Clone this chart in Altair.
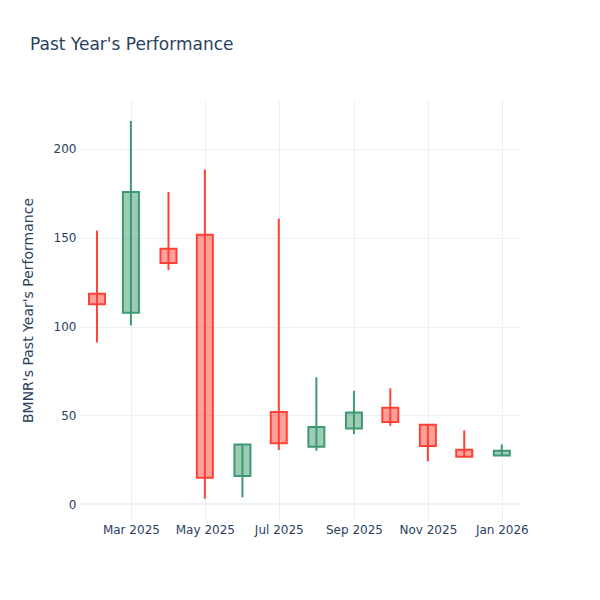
import altair as alt
import pandas as pd

dates = ["2025-02-01", "2025-03-01", "2025-04-01", "2025-05-01", "2025-06-01", "2025-07-01",
         "2025-08-01", "2025-09-01", "2025-10-01", "2025-11-01", "2025-12-01", "2026-01-01"]
open_ = [118.5, 107.8, 143.8, 151.7, 15.8, 51.8, 32.3, 42.6, 54.3, 44.7, 30.6, 27.4]
high = [154.0, 215.8, 175.8, 188.4, 33.6, 160.8, 71.4, 63.8, 65.2, 44.7, 41.5, 33.6]
low = [91.0, 100.6, 131.8, 3.0, 3.8, 30.4, 30.0, 39.4, 44.1, 24.0, 26.7, 27.4]
close = [112.5, 175.8, 135.8, 14.8, 33.6, 34.2, 43.4, 51.6, 46.2, 32.7, 26.7, 30.0]

df = pd.DataFrame({"date": dates, "open": open_, "high": high, "low": low, "close": close})
df["dir"] = ["up" if c >= o else "down" for o, c in zip(open_, close)]

FONT = "DejaVu Sans"
TXT = "#2a3f5f"
GRID = "#EBF0F8"

color_scale = alt.Scale(domain=["up", "down"], range=["#3D9970", "#FF4136"])

tick_vals = [alt.DateTime(year=2025, month=3, date=1), alt.DateTime(year=2025, month=5, date=1),
             alt.DateTime(year=2025, month=7, date=1), alt.DateTime(year=2025, month=9, date=1),
             alt.DateTime(year=2025, month=11, date=1), alt.DateTime(year=2026, month=1, date=1)]

x = alt.X("date:T",
          scale=alt.Scale(domain=[alt.DateTime(year=2025, month=1, date=18),
                                  alt.DateTime(year=2026, month=1, date=16)],
                          padding=0, nice=False),
          axis=alt.Axis(values=tick_vals, format="%b %Y", title=None, domain=False, ticks=False,
                        labelPadding=4, labelFontSize=12, labelColor=TXT, labelFont=FONT,
                        gridColor=GRID, gridWidth=1))

y_axis = alt.Axis(values=[0, 50, 100, 150, 200], domain=False, ticks=False, labelPadding=4,
                  labelFontSize=12, labelColor=TXT, labelFont=FONT, gridColor=GRID, gridWidth=1,
                  title="BMNR's Past Year's Performance", titleFont=FONT, titleFontSize=14,
                  titleFontWeight="normal", titleColor=TXT, titleX=-52, titleY=210,
                  titleAngle=-90, titleAlign="center", titleBaseline="middle")

base = alt.Chart(df)

zero = alt.Chart(pd.DataFrame({"z": [0]})).mark_rule(color=GRID, strokeWidth=2).encode(
    y=alt.Y("z:Q", scale=alt.Scale(domain=[-9, 227.6], nice=False, zero=False), axis=y_axis)
)

wick = base.mark_rule(strokeWidth=2).encode(
    x=x,
    y=alt.Y("low:Q"),
    y2="high:Q",
    color=alt.Color("dir:N", scale=color_scale, legend=None),
)

body = base.mark_bar(size=16, strokeWidth=2, fillOpacity=0.5).encode(
    x=x,
    y=alt.Y("open:Q"),
    y2="close:Q",
    fill=alt.Fill("dir:N", scale=color_scale, legend=None),
    stroke=alt.Stroke("dir:N", scale=color_scale, legend=None),
)

chart = alt.layer(zero, wick, body).properties(
    width=440,
    height=420,
    background="white",
    autosize=alt.AutoSizeParams(type="none"),
    padding={"left": 72, "top": 92, "right": 72, "bottom": 72},
    title=alt.Title("Past Year's Performance", anchor="start", frame="group", dx=-50, offset=46,
                    font=FONT, fontSize=17, fontWeight="normal", color=TXT),
).configure_view(strokeWidth=0, stroke="transparent")

chart.save("out.html", embed_options={"renderer": "svg", "actions": False})
